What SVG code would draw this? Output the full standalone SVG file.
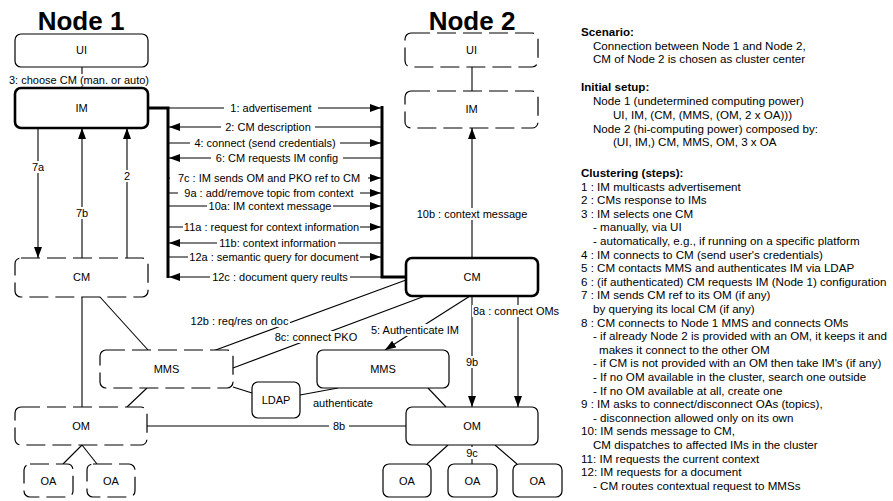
<svg xmlns="http://www.w3.org/2000/svg" width="893" height="501" viewBox="0 0 893 501">
<defs>
<marker id="ah" markerWidth="11" markerHeight="8" refX="11" refY="4" orient="auto" markerUnits="userSpaceOnUse"><path d="M0,0 L11,4 L0,8 z" fill="#000"/></marker>
<style>
text{font-family:"Liberation Sans",Arial,sans-serif;font-size:11px;fill:#000}
.t{text-anchor:middle}
.title{font-size:26px;font-weight:bold;text-anchor:middle}
.b{font-weight:bold}
#notes text{font-size:11.6px}
.box{fill:#fff;stroke:#000;stroke-width:1.2}
.thick{fill:#fff;stroke:#000;stroke-width:2.6}
.dash{fill:#fff;stroke:#000;stroke-width:1.2;stroke-dasharray:19 7}
.ln{stroke:#000;stroke-width:1.1;fill:none}
.ar{stroke:#000;stroke-width:1.1;fill:none;marker-end:url(#ah)}
.bar{stroke:#000;stroke-width:3;fill:none}
.bg{fill:#fff}
</style>
</defs>
<rect width="893" height="501" fill="#fff"/>
<text class="title" x="81" y="30">Node 1</text>
<text class="title" x="472" y="30">Node 2</text>

<g id="connectors">
<line class="ln" x1="82" y1="67" x2="82" y2="88"/>
<line class="ar" x1="38" y1="128" x2="38" y2="258"/>
<line class="ar" x1="82" y1="258" x2="82" y2="128"/>
<line class="ar" x1="127" y1="258" x2="127" y2="128"/>
<line class="ln" x1="82" y1="297" x2="82" y2="407"/>
<line class="ln" x1="100" y1="297" x2="148" y2="350"/>
<line class="ln" x1="147" y1="388" x2="127" y2="407"/>
<line class="ln" x1="82" y1="445" x2="63" y2="464"/>
<line class="ln" x1="82" y1="445" x2="97" y2="464"/>
<line class="ln" x1="147" y1="426" x2="406" y2="426"/>
<line class="ln" x1="233" y1="387" x2="252" y2="393"/>
<line class="ln" x1="300" y1="395" x2="338" y2="388"/>
<line class="ln" x1="213" y1="351" x2="406" y2="280"/>
<line class="ln" x1="233" y1="368" x2="425" y2="296"/>
<line class="ar" x1="470" y1="296" x2="385" y2="350"/>
<line class="ln" x1="472" y1="67" x2="472" y2="91"/>
<line class="ar" x1="472" y1="258" x2="472" y2="128"/>
<line class="ar" x1="472" y1="296" x2="472" y2="407"/>
<line class="ar" x1="518" y1="296" x2="518" y2="407"/>
<line class="ln" x1="428" y1="388" x2="446" y2="407"/>
<line class="ln" x1="448" y1="445" x2="427" y2="464"/>
<line class="ln" x1="472" y1="445" x2="472" y2="464"/>
<line class="ln" x1="495" y1="445" x2="517" y2="464"/>
<polyline class="bar" points="148,108 168,108 168,278"/>
<polyline class="bar" points="382,106 382,277 406,277"/>
<line class="ar" x1="168" y1="108" x2="381" y2="108"/>
<line class="ar" x1="382" y1="127" x2="169" y2="127"/>
<line class="ar" x1="168" y1="143" x2="381" y2="143"/>
<line class="ar" x1="382" y1="158" x2="169" y2="158"/>
<line class="ar" x1="168" y1="178" x2="381" y2="178"/>
<line class="ar" x1="168" y1="193" x2="381" y2="193"/>
<line class="ar" x1="168" y1="206" x2="381" y2="206"/>
<line class="ar" x1="168" y1="227" x2="381" y2="227"/>
<line class="ar" x1="382" y1="243" x2="169" y2="243"/>
<line class="ar" x1="168" y1="257" x2="381" y2="257"/>
<line class="ar" x1="382" y1="277" x2="169" y2="277"/>
<rect class="bg" x="6" y="74" width="146" height="12"/>
<rect class="bg" x="30" y="161" width="16" height="12"/>
<rect class="bg" x="121" y="170" width="12" height="12"/>
<rect class="bg" x="74" y="207" width="16" height="12"/>
<rect class="bg" x="224" y="102" width="94" height="12"/>
<rect class="bg" x="221" y="121" width="94" height="12"/>
<rect class="bg" x="190" y="137" width="150" height="12"/>
<rect class="bg" x="211" y="152" width="132" height="12"/>
<rect class="bg" x="170" y="172" width="198" height="12"/>
<rect class="bg" x="178" y="187" width="182" height="12"/>
<rect class="bg" x="207" y="200" width="126" height="12"/>
<rect class="bg" x="183" y="221" width="177" height="12"/>
<rect class="bg" x="217" y="237" width="121" height="12"/>
<rect class="bg" x="188" y="251" width="172" height="12"/>
<rect class="bg" x="210" y="271" width="140" height="12"/>
<rect class="bg" x="414" y="208" width="116" height="12"/>
<rect class="bg" x="472" y="305" width="88" height="12"/>
<rect class="bg" x="463" y="356" width="18" height="12"/>
<rect class="bg" x="463" y="447" width="18" height="12"/>
<rect class="bg" x="329" y="420" width="20" height="12"/>
<rect class="bg" x="189" y="315" width="101" height="12"/>
<rect class="bg" x="273" y="331" width="86" height="12"/>
<rect class="bg" x="369" y="324" width="92" height="12"/>
<text class="t" x="79" y="84">3: choose CM (man. or auto)</text>
<text class="t" x="38" y="171">7a</text>
<text class="t" x="127" y="180">2</text>
<text class="t" x="82" y="217">7b</text>
<text class="t" x="271" y="112">1: advertisement</text>
<text class="t" x="268" y="131">2: CM description</text>
<text class="t" x="265" y="147">4: connect (send credentials)</text>
<text class="t" x="277" y="162">6: CM requests IM config</text>
<text class="t" x="269" y="182">7c : IM sends OM and PKO ref to CM</text>
<text class="t" x="269" y="197">9a : add/remove topic from context</text>
<text class="t" x="270" y="210">10a: IM context message</text>
<text class="t" x="271.5" y="231">11a : request for context information</text>
<text class="t" x="277.5" y="247">11b: context information</text>
<text class="t" x="274" y="261">12a : semantic query for document</text>
<text class="t" x="280" y="281">12c : document query reults</text>
<text class="t" x="472" y="218">10b : context message</text>
<text class="t" x="516" y="315">8a : connect OMs</text>
<text class="t" x="472" y="366">9b</text>
<text class="t" x="472" y="457">9c</text>
<text class="t" x="339" y="430">8b</text>
<text class="t" x="239.5" y="325">12b : req/res on doc</text>
<text class="t" x="316" y="341">8c: connect PKO</text>
<text class="t" x="415" y="334">5: Authenticate IM</text>
<text x="313" y="407">authenticate</text>
</g>

<g id="n1-ui"><rect class="box" x="15" y="34" width="133" height="33" rx="6"/><text class="t" x="81.5" y="54">UI</text></g>
<g id="n1-im"><rect class="thick" x="15" y="88" width="133" height="40" rx="6"/><text class="t" x="81.5" y="112">IM</text></g>
<g id="n1-cm"><rect class="dash" x="15" y="258" width="133" height="39" rx="6"/><text class="t" x="81.5" y="281">CM</text></g>
<g id="n1-mms"><rect class="dash" x="100" y="350" width="133" height="38" rx="6"/><text class="t" x="166.5" y="373">MMS</text></g>
<g id="n1-om"><rect class="dash" x="15" y="407" width="132" height="38" rx="6"/><text class="t" x="81" y="430">OM</text></g>
<g id="n1-oa1"><rect class="dash" x="24" y="464" width="49" height="33" rx="6"/><text class="t" x="48.5" y="485">OA</text></g>
<g id="n1-oa2"><rect class="dash" x="87" y="464" width="48" height="33" rx="6"/><text class="t" x="111" y="485">OA</text></g>
<g id="ldap"><rect class="box" x="252" y="382" width="48" height="36" rx="6"/><text class="t" x="276" y="404">LDAP</text></g>
<g id="n2-ui"><rect class="dash" x="405" y="33" width="133" height="34" rx="6"/><text class="t" x="471.5" y="54">UI</text></g>
<g id="n2-im"><rect class="dash" x="405" y="91" width="133" height="37" rx="6"/><text class="t" x="471.5" y="113">IM</text></g>
<g id="n2-cm"><rect class="thick" x="406" y="258" width="132" height="38" rx="6"/><text class="t" x="472" y="281">CM</text></g>
<g id="n2-mms"><rect class="box" x="317" y="350" width="132" height="38" rx="6"/><text class="t" x="383" y="373">MMS</text></g>
<g id="n2-om"><rect class="box" x="406" y="407" width="132" height="38" rx="6"/><text class="t" x="472" y="430">OM</text></g>
<g id="n2-oa1"><rect class="box" x="383" y="464" width="48" height="33" rx="6"/><text class="t" x="407" y="485">OA</text></g>
<g id="n2-oa2"><rect class="box" x="448" y="464" width="49" height="33" rx="6"/><text class="t" x="472.5" y="485">OA</text></g>
<g id="n2-oa3"><rect class="box" x="513" y="464" width="49" height="33" rx="6"/><text class="t" x="537.5" y="485">OA</text></g>

<g id="notes">
<text class="b" x="581" y="35.5">Scenario:</text>
<text x="593" y="50">Connection between Node 1 and Node 2,</text>
<text x="593" y="63.3">CM of Node 2 is chosen as cluster center</text>
<text class="b" x="581" y="91.3">Initial setup:</text>
<text x="593" y="104.7">Node 1 (undetermined computing power)</text>
<text x="613" y="118.5">UI, IM, (CM, (MMS, (OM, 2 x OA)))</text>
<text x="593" y="132.5">Node 2 (hi-computing power) composed by:</text>
<text x="613" y="146">(UI, IM,) CM, MMS, OM, 3 x OA</text>
<text class="b" x="581" y="177">Clustering (steps):</text>
<text x="581" y="190.5">1 : IM multicasts advertisement</text>
<text x="581" y="204.1">2 : CMs response to IMs</text>
<text x="581" y="217.7">3 : IM selects one CM</text>
<text x="593" y="231.3">- manually, via UI</text>
<text x="593" y="244.9">- automatically, e.g., if running on a specific platform</text>
<text x="581" y="258.5">4 : IM connects to CM (send user's credentials)</text>
<text x="581" y="272.1">5 : CM contacts MMS and authenticates IM via LDAP</text>
<text x="581" y="285.7">6 : (if authenticated) CM requests IM (Node 1) configuration</text>
<text x="581" y="299.3">7 : IM sends CM ref to its OM (if any)</text>
<text x="593" y="312.9">by querying its local CM (if any)</text>
<text x="581" y="326.5">8 : CM connects to Node 1 MMS and connects OMs</text>
<text x="593" y="340.1">- if already Node 2 is provided with an OM, it keeps it and</text>
<text x="599" y="353.7">makes it connect to the other OM</text>
<text x="593" y="367.3">- if CM is not provided with an OM then take IM's (if any)</text>
<text x="593" y="380.9">- If no OM available in the cluster, search one outside</text>
<text x="593" y="394.5">- If no OM available at all, create one</text>
<text x="581" y="408.1">9 : IM asks to connect/disconnect OAs (topics),</text>
<text x="593" y="421.7">- disconnection allowed only on its own</text>
<text x="581" y="435.3">10: IM sends message to CM,</text>
<text x="593" y="448.9">CM dispatches to affected IMs in the cluster</text>
<text x="581" y="462.5">11: IM requests the current context</text>
<text x="581" y="476.1">12: IM requests for a document</text>
<text x="593" y="489.7">- CM routes contextual request to MMSs</text>
</g>
</svg>
